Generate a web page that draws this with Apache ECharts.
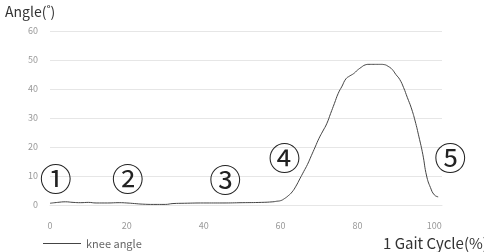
<!DOCTYPE html>
<html>
<head>
<meta charset="utf-8">
<script src="https://cdn.jsdelivr.net/npm/echarts@6/dist/echarts.min.js"></script>
<style>
  html, body { margin: 0; padding: 0; background: #fff; }
  #chart { width: 484px; height: 252px; }
</style>
</head>
<body>
<div id="chart"></div>
<script>
var gaitPct = [0, 2, 4, 6, 8, 10, 12, 15, 18, 20, 22, 24, 27, 30, 32, 35, 40, 45, 50, 55, 58, 59,
    60, 61, 62, 63, 64, 65, 66, 67, 68, 69, 70, 71, 72, 73, 74, 75, 76, 77, 78, 79, 80,
    81, 82, 83, 84, 85, 86, 87, 88, 89, 90, 91, 92, 93, 94, 95, 96, 97, 98, 99, 100, 101];
var kneeAngle = [0.6, 0.9, 1.1, 0.9, 0.8, 0.9, 0.7, 0.7, 0.8, 0.7, 0.5, 0.3, 0.2, 0.2, 0.5, 0.6, 0.7, 0.7, 0.8, 0.9, 1.1, 1.3,
    1.5, 2.2, 3.2, 4.5, 6.5, 9, 11.5, 14, 17, 20, 23, 25.5, 28, 31.5, 35, 38.5, 41, 43.5, 44.5, 45.3, 46.5,
    47.5, 48.3, 48.5, 48.5, 48.5, 48.5, 48.4, 47.8, 46.8, 45, 43.3, 40.5, 37, 33.5, 29, 23.5, 17.5, 10, 6, 3.5, 2.8];
var yTicks = [0, 60, 10];
var xTicks = [0, 100, 20];
// phase markers: label, [x, y] in data space, extra pixel shift
var phaseLabels = ['①', '②', '③', '④', '⑤'];
var phaseCoords = [[1.5, 9], [20.2, 9], [45.6, 8.6], [61, 16.2], [100, 16.2]];
var phaseShift = [[0, 0], [0, 0], [0, 0], [0, 0], [16, 0]];

var font = '"Noto Sans CJK KR", "Noto Sans", sans-serif';

var seriesData = [];
for (var i = 0; i < gaitPct.length; i++) {
    seriesData.push([gaitPct[i], kneeAngle[i]]);
}
var marks = [];
for (var j = 0; j < phaseLabels.length; j++) {
    marks.push({ coord: phaseCoords[j], value: phaseLabels[j], label: { offset: phaseShift[j] } });
}

var option = {
    animation: false,
    textStyle: { fontFamily: font },
    title: [{
        text: 'Angle(˚)',
        left: 0, top: 0,
        textStyle: { fontSize: 14, fontWeight: 'normal', color: '#333', fontFamily: font }
    }, {
        text: '1 Gait Cycle(%)',
        left: 378, top: 231,
        textStyle: { fontSize: 15, fontWeight: 'normal', color: '#333', fontFamily: font }
    }],
    legend: {
        left: 38, top: 233,
        itemWidth: 38, itemHeight: 10,
        icon: 'path://M0,4 L38,4 L38,5 L0,5 Z',
        textStyle: { fontSize: 11, color: '#666', fontFamily: font },
        data: ['knee angle']
    },
    grid: { left: 50, right: 42, top: 31, bottom: 47 },
    xAxis: {
        type: 'value',
        min: xTicks[0], max: 102, interval: xTicks[2],
        axisLine: { show: true, lineStyle: { color: '#e6e6e6' } },
        axisTick: { show: false },
        splitLine: { show: false },
        axisLabel: {
            color: '#999', fontSize: 9, margin: 16, showMaxLabel: false,
            formatter: function (v) { return v <= xTicks[1] ? v : ''; }
        }
    },
    yAxis: {
        type: 'value',
        min: yTicks[0], max: yTicks[1], interval: yTicks[2],
        axisLine: { show: false },
        axisTick: { show: false },
        splitLine: { lineStyle: { color: '#e6e6e6' } },
        axisLabel: { color: '#999', fontSize: 9, margin: 12 }
    },
    series: [{
        name: 'knee angle',
        type: 'line',
        smooth: true,
        showSymbol: false,
        lineStyle: { color: '#444', width: 1 },
        itemStyle: { color: '#444' },
        data: seriesData,
        markPoint: {
            symbol: 'circle',
            symbolSize: 1,
            itemStyle: { color: 'rgba(0,0,0,0)' },
            label: {
                show: true,
                position: 'inside',
                formatter: '{c}',
                fontSize: 32,
                color: '#222',
                fontFamily: font
            },
            data: marks
        }
    }]
};

var chart = echarts.init(document.getElementById('chart'));
chart.setOption(option);
</script>
</body>
</html>
